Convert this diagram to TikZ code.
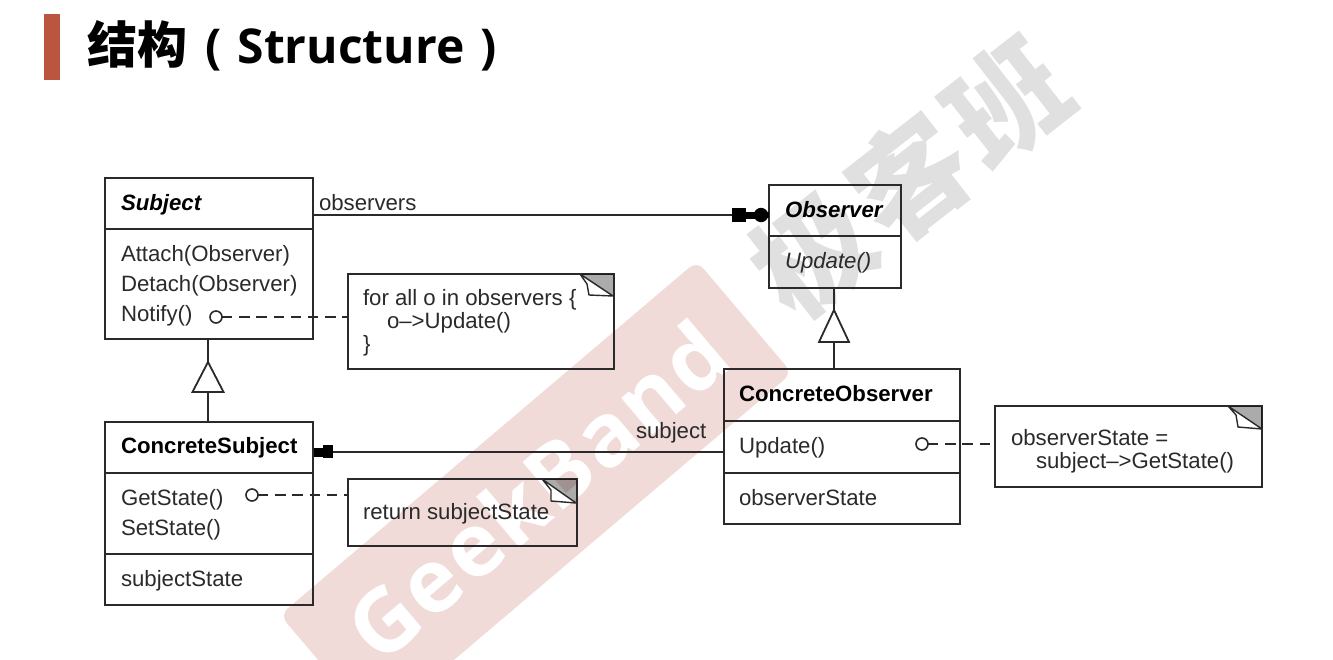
\documentclass[tikz,border=0pt]{standalone}
\usepackage{fontspec}
\setmainfont{Liberation Sans}
\newfontfamily\cjkfont{Noto Sans CJK SC}
\newfontfamily\headfont{Open Sans}
\newfontfamily\bandfont[LetterSpace=3]{Open Sans}
\usetikzlibrary{calc}
\definecolor{ink}{HTML}{2A2A2A}
\definecolor{band}{HTML}{F0DBD8}
\definecolor{wmgray}{HTML}{E0E0E0}
\definecolor{accent}{HTML}{BA5540}
\tikzset{
  px/.style={x=0.5pt,y=-0.5pt},
  umlbox/.style={draw=ink,line width=1pt,inner sep=0pt,outer sep=0pt},
  conn/.style={draw=ink,line width=1pt},
  dashconn/.style={draw=ink,line width=0.9pt,dash pattern=on 5.2pt off 3.4pt},
  lbl/.style={anchor=base west,inner sep=0pt,outer sep=0pt,text=ink,font=\fontsize{11.1}{13}\selectfont},
  bl/.style={lbl,text=black,font=\fontsize{11.1}{13}\selectfont\bfseries},
  bi/.style={lbl,text=black,font=\fontsize{11.1}{13}\selectfont\bfseries\itshape},
  it/.style={lbl,font=\fontsize{11.1}{13}\selectfont\itshape},
  hole/.style={circle,draw=ink,line width=0.8pt,minimum size=6pt,inner sep=0pt,outer sep=0pt},
  triangle/.style={draw=ink,line width=0.9pt,line join=miter,fill=none},
  dogear/.style={fill=black,fill opacity=0.33,draw=none},
  fold/.style={fill=white,draw=ink,line width=0.7pt,line join=bevel},
}
\begin{document}
\begin{tikzpicture}[px]
\useasboundingbox (0,0) rectangle (1333,659);
\begin{scope}
\clip (0,0) rectangle (1333,659);
% watermarks
\fill[band,rounded corners=5pt] (697,261) -- (792,373) -- (375,727) -- (280,615) -- cycle;
\node[rotate=40.3,text=white,font=\bandfont\fontsize{44}{50}\selectfont\bfseries,inner sep=0pt] (wmen) at (537,490) {GeekBand};
\node[rotate=38,text=wmgray,font=\cjkfont\fontsize{58}{70}\selectfont\bfseries,inner sep=0pt] (wmzh) at (910,177) {极\hspace{3.5pt}客\hspace{3.5pt}班};
\end{scope}
% title
\fill[accent] (44,14) rectangle (60,80);
\node[anchor=base west,inner sep=0pt,text=black,font=\headfont\fontsize{24}{28}\selectfont\bfseries] (title) at (87,63) {{\cjkfont\fontsize{25}{28}\selectfont\bfseries 结构}\hspace{9pt}(\hspace{8pt}Structure\hspace{8pt})};
% class boxes
\node[umlbox,anchor=north west,minimum width=103.75pt,minimum height=80.5pt] (subject) at (105,178) {};
\node[umlbox,anchor=north west,minimum width=103.75pt,minimum height=91.5pt] (csubject) at (105,422) {};
\node[umlbox,anchor=north west,minimum width=66pt,minimum height=51.5pt] (observer) at (769,185) {};
\node[umlbox,anchor=north west,minimum width=118pt,minimum height=77.5pt] (cobserver) at (724,369) {};
\draw[conn] (subject.west |- 0,229) -- (subject.east |- 0,229);
\draw[conn] (csubject.west |- 0,473) -- (csubject.east |- 0,473);
\draw[conn] (csubject.west |- 0,554) -- (csubject.east |- 0,554);
\draw[conn] (observer.west |- 0,236) -- (observer.east |- 0,236);
\draw[conn] (cobserver.west |- 0,421) -- (cobserver.east |- 0,421);
\draw[conn] (cobserver.west |- 0,473) -- (cobserver.east |- 0,473);
% class texts
\node[bi] (t1) at (121,210) {Subject};
\node[lbl] (t2) at (121,261) {Attach(Observer)};
\node[lbl] (t3) at (121,291) {Detach(Observer)};
\node[lbl] (t4) at (121,321) {Notify()};
\node[bl] (t5) at (121,453) {ConcreteSubject};
\node[lbl] (t6) at (121,505) {GetState()};
\node[lbl] (t7) at (121,535) {SetState()};
\node[lbl] (t8) at (121,586) {subjectState};
\node[bi] (t9) at (785,217) {Observer};
\node[it] (t10) at (785,268) {Update()};
\node[bl] (t11) at (739,401) {ConcreteObserver};
\node[lbl] (t12) at (739,453) {Update()};
\node[lbl] (t13) at (739,505) {observerState};
\node[lbl] (t14) at (319,210) {observers};
\node[lbl] (t15) at (636,438) {subject};
% notes
\node[umlbox,anchor=north west,minimum width=133pt,minimum height=47.25pt] (note1) at (347.5,274) {};
\node[umlbox,anchor=north west,minimum width=114.5pt,minimum height=33.5pt] (note2) at (347.5,479) {};
\node[umlbox,anchor=north west,minimum width=133.5pt,minimum height=40.5pt] (note3) at (995,406) {};
\node[lbl] (n1a) at (363,305) {for all o in observers \{};
\node[lbl] (n1b) at (387,328) {o–>Update()};
\node[lbl] (n1c) at (363,351) {\}};
\node[lbl] (n2a) at (363,519) {return subjectState};
\node[lbl] (n3a) at (1011,445) {observerState =};
\node[lbl] (n3b) at (1036,468) {subject–>GetState()};
% dog ears
\fill[dogear] (note1.north east) -- (580,274) -- (613,296) -- cycle;
\filldraw[fold] (580,274) -- (587,284) -- (589,295) -- (613,296) -- cycle;
\fill[dogear] (note2.north east) -- (542,479) -- (576,503) -- cycle;
\filldraw[fold] (542,479) -- (551,490) -- (551,501) -- (576,503) -- cycle;
\fill[dogear] (note3.north east) -- (1228,406) -- (1262,429) -- cycle;
\filldraw[fold] (1228,406) -- (1236,415) -- (1238,427) -- (1262,429) -- cycle;
% implementation links
\node[hole] (h1) at (216,317) {};
\node[hole] (h2) at (252,495) {};
\node[hole] (h3) at (922,444) {};
\draw[dashconn] (h1.east) -- (note1.west |- h1);
\draw[dashconn] (h2.east) -- (note2.west |- h2);
\draw[dashconn] (h3.east) -- (note3.west |- h3);
% inheritance
\coordinate (apexa) at (208,362);
\coordinate (basea) at (208,392);
\coordinate (apexb) at (834,310);
\coordinate (baseb) at (834,342);
\draw[conn] (subject.south -| apexa) -- (apexa);
\draw[conn] (basea) -- (csubject.north -| basea);
\draw[triangle] (apexa) -- ($(basea)+(-15.5,0)$) -- ($(basea)+(15.5,0)$) -- cycle;
\draw[conn] (observer.south -| apexb) -- (apexb);
\draw[conn] (baseb) -- (cobserver.north -| baseb);
\draw[triangle] (apexb) -- ($(baseb)+(-15,0)$) -- ($(baseb)+(15,0)$) -- cycle;
% association subject -> observer
\coordinate (oa) at (subject.east |- 0,215);
\coordinate (ob) at (observer.west |- 0,215);
\draw[conn] (oa) -- (ob);
\fill[black] (732,208) rectangle (746,222);
\fill[black] (746,211.5) rectangle (756,218.5);
\fill[black] (761,215) circle[radius=3.6pt];
\fill[black] (766,212) rectangle (769,218);
% association cobserver -> csubject
\coordinate (sa) at (cobserver.west |- 0,452);
\coordinate (sb) at (csubject.east |- 0,452);
\draw[conn] (sa) -- (sb);
\fill[black] (323,445) rectangle (333,458);
\fill[black] (314,447.5) rectangle (323,456.5);
\end{tikzpicture}
\end{document}
